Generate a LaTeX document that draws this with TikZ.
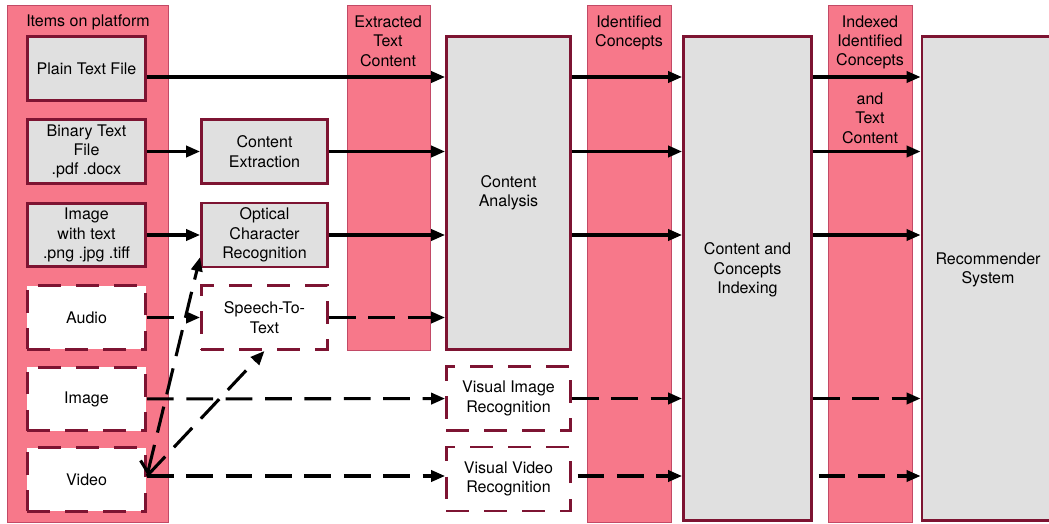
\documentclass[tikz,border=0pt]{standalone}
\usepackage{fontspec}
\setmainfont{TeX Gyre Heros}
\usetikzlibrary{arrows.meta}

\definecolor{bandpink}{HTML}{F7788A}
\definecolor{bandedge}{HTML}{C24A66}
\definecolor{boxedge}{HTML}{7D1432}
\definecolor{boxgray}{HTML}{E0E0E0}

\begin{document}
\begin{tikzpicture}[x=0.025cm, y=-0.025cm,
        font=\fontsize{11.4}{13.8}\selectfont,
        band/.style={draw=bandedge, fill=bandpink, line width=0.6pt},
        bandtext/.style={align=center, inner sep=0pt},
        proc/.style={draw=boxedge, fill=boxgray, line width=2pt, align=center, inner sep=1pt},
        todo/.style={proc, fill=white, dash pattern=on 16pt off 11pt},
        flow/.style={line width=2.2pt, -{Triangle[length=10pt,width=8pt]}},
        maybe/.style={flow, dash pattern=on 19pt off 9pt}]
        % \draw[help lines, step=50] (0,0) grid (1049,524);
        \useasboundingbox (0,0) rectangle (1049,524);

        \draw[band] (7,5) rectangle (168,522);
        \draw[band] (347,5) rectangle (430,350);
        \draw[band] (587,5) rectangle (671,522);
        \draw[band] (828,5) rectangle (912,522);

        \node[bandtext] (itemstitle) at (88,22.5) {Items on platform};
        \node[bandtext] (extractedtitle) at (388,41) {Extracted\\Text\\Content};
        \node[bandtext] (identifiedtitle) at (629,33) {Identified\\Concepts};
        \node[bandtext] (indexedtitle) at (870,42.5) {Indexed\\Identified\\Concepts};
        \node[bandtext] (indexedmore) at (870,118) {and\\Text\\Content};

        % items on platform
        \node[proc, minimum width=2.95cm, minimum height=1.58cm] (plain) at (86.5,68.5) {Plain Text File};
        \node[proc, minimum width=2.95cm, minimum height=1.58cm] (binary) at (86.5,151.5) {Binary Text\\File\\.pdf .docx};
        \node[proc, minimum width=2.95cm, minimum height=1.58cm] (imgtext) at (86.5,235) {Image\\with text\\.png .jpg .tiff};
        \node[todo, minimum width=2.95cm, minimum height=1.58cm] (audio) at (86.5,317.5) {Audio};
        \node[todo, minimum width=2.95cm, minimum height=1.58cm] (image) at (86.5,399) {Image};
        \node[todo, minimum width=2.95cm, minimum height=1.58cm] (video) at (86.5,479.5) {Video};

        \node[proc, minimum width=3.15cm, minimum height=1.6cm] (extract) at (264.5,151.5) {Content\\Extraction};
        \node[proc, minimum width=3.15cm, minimum height=1.6cm] (ocr) at (264.5,235) {Optical\\Character\\Recognition};
        \node[todo, minimum width=3.15cm, minimum height=1.6cm] (stt) at (264.5,317.5) {Speech-To-\\Text};

        \node[proc, minimum width=3.1cm, minimum height=7.83cm] (ca) at (508.5,193) {Content\\Analysis};
        \node[todo, minimum width=3.1cm, minimum height=1.6cm] (vir) at (508.5,398.5) {Visual Image\\Recognition};
        \node[todo, minimum width=3.1cm, minimum height=1.6cm] (vvr) at (508.5,479) {Visual Video\\Recognition};

        \node[proc, minimum width=3.2cm, minimum height=12.1cm] (cci) at (747.5,278.5) {};
        \node[bandtext] (ccitext) at ([yshift=6pt]cci.center) {Content and\\Concepts\\Indexing};
        \node[proc, minimum width=3.3cm, minimum height=12.1cm] (rs) at (988,278.5) {};
        \node[bandtext] (rstext) at ([yshift=6pt]rs.center) {Recommender\\System};

        \coordinate (row1) at (0,77);
        \coordinate (row5) at (0,476);

        % text paths
        \draw[flow] (plain.east |- row1) -- (ca.west |- row1);
        \draw[flow] (binary) -- (extract);
        \draw[flow] (extract) -- (ca.west |- extract);
        \draw[flow] (imgtext) -- (ocr);
        \draw[flow] (ocr) -- (ca.west |- ocr);

        % media paths
        \draw[maybe] (audio) -- (stt);
        \draw[maybe] (stt) -- (ca.west |- stt);
        \draw[maybe] (image) -- (vir);
        \draw[maybe] (video.east |- row5) -- (vvr.west |- row5);
        \draw[maybe, {Straight Barb[right, length=7pt]}-{Triangle[length=10pt,width=8pt]}] (video.east |- row5) -- ([yshift=8pt]ocr.south west);
        \draw[maybe] (video.east |- row5) -- (stt.south);

        \draw[flow] (ca.east |- row1) -- (cci.west |- row1);
        \draw[flow] (ca.east |- extract) -- (cci.west |- extract);
        \draw[flow] (ca.east |- ocr) -- (cci.west |- ocr);
        \draw[maybe] (vir) -- (cci.west |- vir);
        \draw[maybe, shorten <=4pt] (vvr.east |- row5) -- (cci.west |- row5);

        \draw[flow] (cci.east |- row1) -- (rs.west |- row1);
        \draw[flow] (cci.east |- extract) -- (rs.west |- extract);
        \draw[flow] (cci.east |- ocr) -- (rs.west |- ocr);
        \draw[maybe] (cci.east |- vir) -- (rs.west |- vir);
        \draw[maybe, shorten <=4pt] (cci.east |- row5) -- (rs.west |- row5);
\end{tikzpicture}
\end{document}
